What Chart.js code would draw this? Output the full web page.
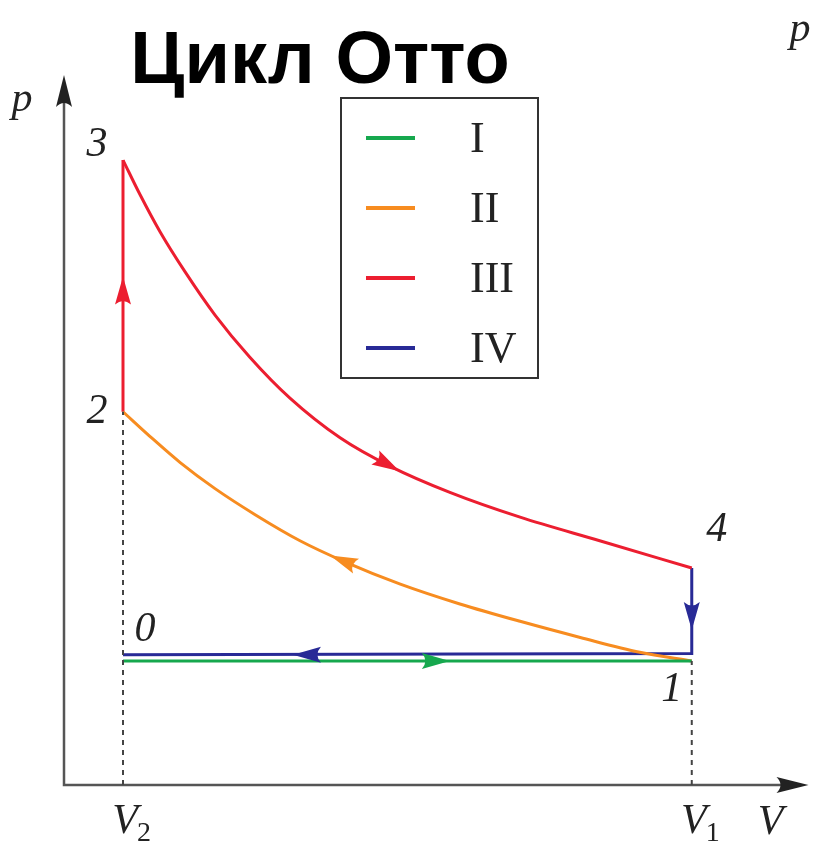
<!DOCTYPE html>
<html>
<head>
<meta charset="utf-8">
<script src="https://cdn.jsdelivr.net/npm/chart.js@4/dist/chart.umd.min.js"></script>
<style>
  html, body { margin: 0; padding: 0; background: #fff; }
</style>
</head>
<body>
<canvas id="ottoChart" width="816" height="844"></canvas>
<script>
// Otto cycle, V in units of V2, p in units of p1
const seriesNames = ['I', 'II', 'III', 'IV'];
const seriesColors = ['rgb(22, 168, 78)', 'rgb(247, 140, 32)', 'rgb(236, 30, 48)', 'rgb(40, 42, 150)'];

// I: intake 0 -> 1
const intakeV = [1.0, 10.64];
const intakeP = [1.0, 1.0];
// II: adiabatic compression 1 -> 2
const compressV = [1.0, 1.46, 1.97, 2.56, 3.24, 4.0, 4.76, 5.70, 6.71, 7.73, 8.75, 9.76, 10.64];
const compressP = [3.01, 2.81, 2.60, 2.39, 2.18, 1.97, 1.80, 1.62, 1.46, 1.32, 1.19, 1.07, 1.0];
// III: combustion 2 -> 3 and power stroke 3 -> 4
const burnV = [1.0, 1.0];
const burnP = [3.01, 5.04];
const expandV = [1.0, 1.29, 1.63, 2.05, 2.56, 3.15, 3.83, 4.68, 5.53, 6.54, 7.73, 9.08, 10.64];
const expandP = [5.04, 4.76, 4.46, 4.14, 3.79, 3.45, 3.12, 2.80, 2.57, 2.36, 2.16, 1.97, 1.75];
// IV: exhaust 4 -> 1 -> 0
const exhaustV = [10.64, 10.64, 1.0];
const exhaustP = [1.75, 1.06, 1.05];

// state points 0..4
const pointNames = ['0', '1', '2', '3', '4'];
const pointV = [1.0, 10.64, 1.0, 1.0, 10.64];
const pointP = [1.05, 1.0, 3.01, 5.04, 1.75];

// axis ticks
const tickV = [1.0, 10.64];
const tickSub = ['2', '1'];

// arrowheads: tip and a point behind it on the same path
const arrowSeries = [2, 2, 1, 3, 3, 0];
const arrowTipV = [1.0, 5.69, 4.51, 10.64, 3.88, 6.54];
const arrowTipP = [4.10, 2.53, 1.85, 1.25, 1.05, 1.0];
const arrowTailV = [1.0, 4.68, 5.50, 10.64, 5.0, 5.0];
const arrowTailP = [3.5, 2.80, 1.66, 1.6, 1.05, 1.0];

function pts(vs, ps) {
    return vs.map((v, i) => ({ x: v, y: ps[i] }));
}

function curve(label, idx, vs, ps, smooth) {
    return {
        label: label,
        data: pts(vs, ps),
        borderColor: seriesColors[idx],
        borderWidth: 3,
        pointRadius: 0,
        fill: false,
        tension: 0,
        cubicInterpolationMode: smooth ? 'monotone' : 'default',
        clip: false
    };
}

function guide(v, p) {
    return {
        data: pts([v, v], [0, p]),
        borderColor: '#444',
        borderWidth: 2,
        borderDash: [5, 5],
        pointRadius: 0,
        fill: false,
        clip: false
    };
}

const serif = "'Liberation Serif', 'DejaVu Serif', serif";

function arrowHead(c, x, y, ang, len, half) {
    c.save();
    c.translate(x, y);
    c.rotate(ang);
    c.beginPath();
    c.moveTo(0, 0);
    c.lineTo(-len, -half);
    c.quadraticCurveTo(-len * 0.75, 0, -len, half);
    c.closePath();
    c.fill();
    c.restore();
}

const ottoDecor = {
    id: 'ottoDecor',
    beforeDatasetsDraw(chart) {
        const c = chart.ctx;
        const a = chart.chartArea;
        c.save();
        c.strokeStyle = '#555';
        c.fillStyle = '#222';
        c.lineWidth = 2.5;
        c.beginPath();
        c.moveTo(a.left, a.top + 20);
        c.lineTo(a.left, a.bottom);
        c.lineTo(a.right - 10, a.bottom);
        c.stroke();
        arrowHead(c, a.left, a.top + 3, -Math.PI / 2, 32, 8);
        arrowHead(c, a.right + 7, a.bottom, 0, 32, 8);
        c.restore();
    },
    afterDatasetsDraw(chart) {
        const c = chart.ctx;
        const xs = chart.scales.x, ys = chart.scales.y;
        const a = chart.chartArea;
        c.save();

        // arrows on the paths
        arrowSeries.forEach((s, i) => {
            const tx = xs.getPixelForValue(arrowTipV[i]), ty = ys.getPixelForValue(arrowTipP[i]);
            const bx = xs.getPixelForValue(arrowTailV[i]), by = ys.getPixelForValue(arrowTailP[i]);
            c.fillStyle = seriesColors[s];
            arrowHead(c, tx, ty, Math.atan2(ty - by, tx - bx), 28, 8);
        });

        // state point numbers
        const offX = [22, -20, -26, -26, 25];
        const offY = [-25, 29, 0, -15, -38];
        c.fillStyle = '#222';
        c.font = 'italic 42px ' + serif;
        c.textAlign = 'center';
        c.textBaseline = 'middle';
        pointNames.forEach((n, i) => {
            c.fillText(n, xs.getPixelForValue(pointV[i]) + offX[i], ys.getPixelForValue(pointP[i]) + offY[i]);
        });

        // axis names
        c.fillText('p', a.left - 42, a.top + 28);
        c.fillText('V', a.right - 31, a.bottom + 38);
        c.fillText('p', 800, 30);

        // tick labels V2, V1
        tickV.forEach((v, i) => {
            const x = xs.getPixelForValue(v);
            c.font = 'italic 42px ' + serif;
            c.textAlign = 'center';
            c.fillText('V', x + 2, a.bottom + 37);
            c.font = '28px ' + serif;
            c.textAlign = 'left';
            c.fillText(tickSub[i], x + 14, a.bottom + 49);
        });

        // legend box
        const lx = 341, ly = 98, lw = 197, lh = 280;
        c.strokeStyle = '#333';
        c.lineWidth = 2;
        c.strokeRect(lx, ly, lw, lh);
        seriesNames.forEach((name, i) => {
            const y = ly + 40 + i * 70;
            c.strokeStyle = seriesColors[i];
            c.lineWidth = 4;
            c.beginPath();
            c.moveTo(lx + 25, y);
            c.lineTo(lx + 74, y);
            c.stroke();
            c.fillStyle = '#222';
            c.font = '44px ' + serif;
            c.textAlign = 'left';
            c.textBaseline = 'middle';
            c.fillText(name, lx + 129, y + 2);
        });

        // title
        c.fillStyle = '#000';
        c.font = "bold 74px 'Liberation Sans', Arial, sans-serif";
        c.textAlign = 'center';
        c.textBaseline = 'alphabetic';
        c.fillText('Цикл Отто', 320, 83);
        c.restore();
    }
};

new Chart(document.getElementById('ottoChart').getContext('2d'), {
    type: 'line',
    data: {
        datasets: [
            guide(pointV[2], pointP[2]),
            guide(pointV[1], pointP[1]),
            curve('I', 0, intakeV, intakeP, false),
            curve('II', 1, compressV, compressP, true),
            curve('III', 2, burnV, burnP, false),
            curve('III', 2, expandV, expandP, true),
            curve('IV', 3, exhaustV, exhaustP, false)
        ]
    },
    options: {
        responsive: false,
        animation: false,
        layout: { padding: { left: 64, right: 14.5, top: 72, bottom: 59 } },
        scales: {
            x: { type: 'linear', min: 0, max: 12.5, display: false },
            y: { type: 'linear', min: 0, max: 5.75, display: false }
        },
        plugins: {
            legend: { display: false },
            tooltip: { enabled: false }
        }
    },
    plugins: [ottoDecor]
});
</script>
</body>
</html>
